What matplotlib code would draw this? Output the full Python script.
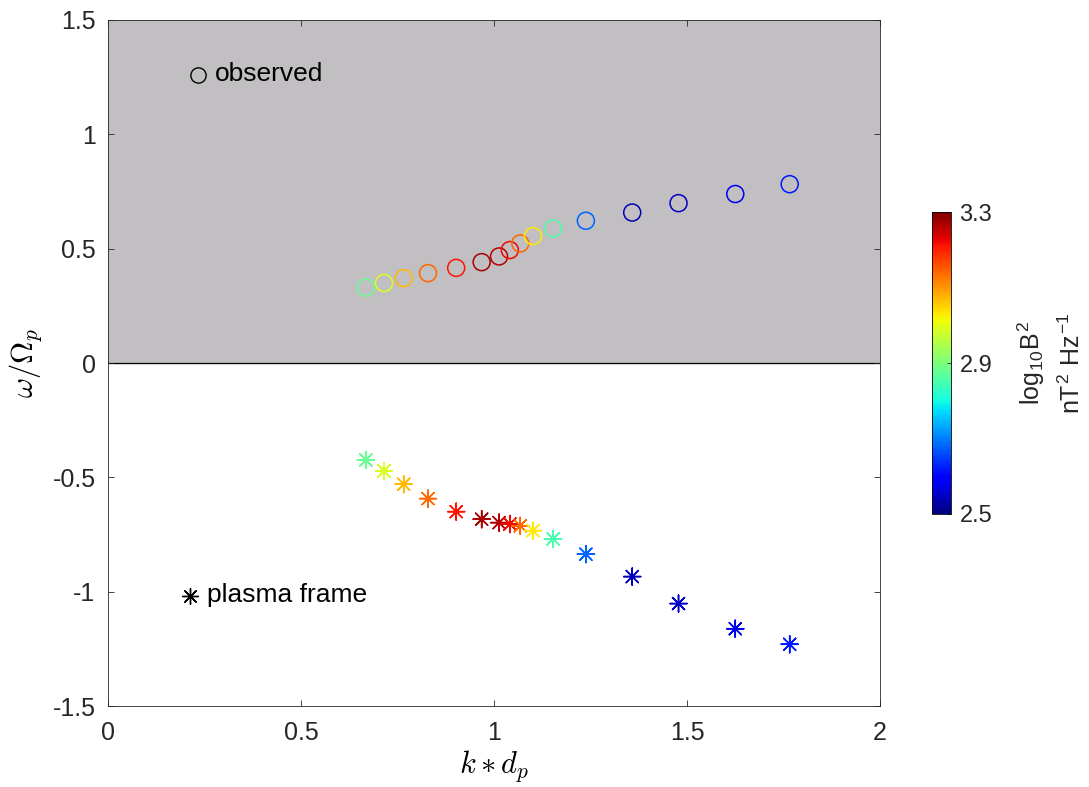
import numpy as np
import matplotlib.pyplot as plt
from matplotlib.colors import Normalize

plt.rcParams['font.family'] = ['Liberation Sans', 'DejaVu Sans']
plt.rcParams['mathtext.fontset'] = 'cm'

# k*d_p, observed frequency, plasma frame frequency, log10 B^2
kdp = [0.668, 0.715, 0.766, 0.829, 0.902, 0.968, 1.013, 1.041, 1.068, 1.101,
       1.153, 1.238, 1.358, 1.478, 1.625, 1.766]
w_obs = [0.330, 0.350, 0.371, 0.393, 0.416, 0.441, 0.466, 0.494, 0.523, 0.555,
         0.588, 0.622, 0.658, 0.699, 0.739, 0.782]
w_plasma = [-0.424, -0.472, -0.530, -0.593, -0.650, -0.683, -0.698, -0.704,
            -0.712, -0.733, -0.769, -0.836, -0.934, -1.052, -1.162, -1.230]
logB2 = [2.88, 2.99, 3.07, 3.14, 3.21, 3.27, 3.26, 3.22, 3.14, 3.03,
         2.85, 2.68, 2.54, 2.55, 2.58, 2.62]

norm = Normalize(2.5, 3.3)
cmap = plt.get_cmap('jet')
dark = '#262626'

fig = plt.figure(figsize=(10.89, 7.87), dpi=100)
ax = fig.add_axes([0.0992, 0.1029, 0.7089, 0.8717])

ax.axhspan(0, 1.5, color='#c1bfc1', zorder=0)
ax.axhline(0, color='black', lw=0.9, zorder=1)

ax.scatter(kdp, w_obs, s=150, facecolors='none', edgecolors=cmap(norm(logB2)),
           linewidths=1.1, zorder=3)
sc = ax.scatter(kdp, w_plasma, s=150, c=logB2, cmap=cmap, norm=norm,
                marker=(8, 2, 0), linewidths=1.1, zorder=3)

# marker key
ax.plot(0.233, 1.259, 'o', mfc='none', mec='black', ms=11, mew=1.0)
ax.text(0.277, 1.262, 'observed', fontsize=19, va='center')
ax.scatter([0.212], [-1.019], s=130, c='black', marker=(8, 2, 0), linewidths=1.0)
ax.text(0.256, -1.016, 'plasma frame', fontsize=19, va='center')

ax.set_xlim(0, 2)
ax.set_ylim(-1.5, 1.5)
ax.set_xticks([0, 0.5, 1, 1.5, 2])
ax.set_xticklabels(['0', '0.5', '1', '1.5', '2'])
ax.set_yticks([-1.5, -1, -0.5, 0, 0.5, 1, 1.5])
ax.set_yticklabels(['-1.5', '-1', '-0.5', '0', '0.5', '1', '1.5'])
ax.tick_params(direction='in', top=True, right=True, labelsize=18,
               length=4.5, width=0.6, colors=dark)
ax.tick_params(axis='x', pad=11)
ax.tick_params(axis='y', pad=9)
ax.set_xlabel('$k*d_p$', fontsize=22, labelpad=2)
ax.set_ylabel('$\\omega/\\Omega_p$', fontsize=22, labelpad=6)
for s in ax.spines.values():
    s.set_linewidth(0.6)
    s.set_color(dark)

cax = fig.add_axes([0.856, 0.3469, 0.0174, 0.3837])
cb = fig.colorbar(sc, cax=cax, ticks=[2.5, 2.9, 3.3])
cb.ax.tick_params(direction='in', labelsize=17, length=3, width=0.6,
                  colors=dark, pad=6)
cb.ax.set_yticklabels(['2.5', '2.9', '3.3'])
cb.outline.set_linewidth(0.6)
fig.text(1031 / 1089, 0.5388, 'log$_{\\mathregular{10}}$B$^{\\mathregular{2}}$',
         rotation=90, fontsize=18, ha='center', va='center', color=dark)
fig.text(1072 / 1089, 0.5388, 'nT$^{\\mathregular{2}}$ Hz$^{\\mathregular{-1}}$',
         rotation=90, fontsize=18, ha='center', va='center', color=dark)

fig.savefig('out.png', dpi=100)
